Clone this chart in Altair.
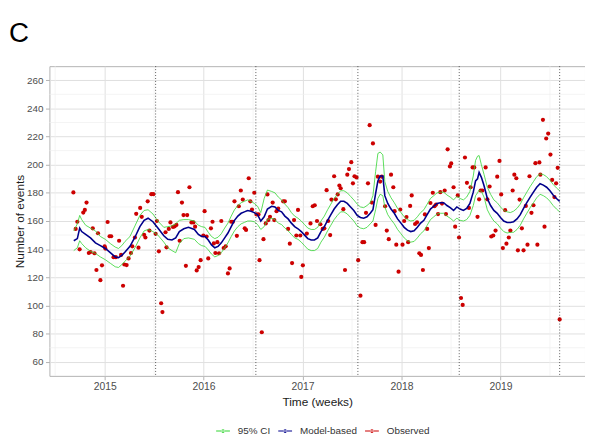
import altair as alt
import pandas as pd

# ---------------- data ----------------
YEARS = [2015, 2016, 2017, 2018, 2019]
Y_TICKS = [60, 80, 100, 120, 140, 160, 180, 200, 220, 240, 260]
MINOR_X = [2014.5, 2015.5, 2016.5, 2017.5, 2018.5, 2019.5]
MINOR_Y = [70, 90, 110, 130, 150, 170, 190, 210, 230, 250]
BREAKS = [2015.515, 2016.528, 2017.559, 2018.583, 2019.598]
SERIES = ["95% CI", "Model-based", "Observed"]
COLORS = ["#33d633", "#00008b", "#cc0000"]

OBS_T = [
    2014.684, 2014.707, 2014.724, 2014.747, 2014.784, 2014.800, 2014.817, 2014.840, 2014.857, 2014.880,
    2014.897, 2014.917, 2014.933, 2014.957, 2014.973, 2015.000, 2015.007, 2015.030, 2015.050, 2015.066,
    2015.090, 2015.113, 2015.146, 2015.166, 2015.186, 2015.199, 2015.222, 2015.242, 2015.266, 2015.279,
    2015.306, 2015.319, 2015.342, 2015.359, 2015.375, 2015.399, 2015.412, 2015.435, 2015.452, 2015.472,
    2015.492, 2015.515, 2015.528, 2015.548, 2015.571, 2015.584,
    2015.615, 2015.625, 2015.648, 2015.665, 2015.691, 2015.708, 2015.725, 2015.741, 2015.758, 2015.781,
    2015.797, 2015.821, 2015.834, 2015.857, 2015.877, 2015.897, 2015.914, 2015.930, 2015.950, 2015.970,
    2015.997, 2016.010, 2016.030, 2016.047, 2016.074, 2016.090, 2016.103, 2016.119, 2016.139, 2016.156,
    2016.179, 2016.203, 2016.223, 2016.246, 2016.263, 2016.279, 2016.296, 2016.312, 2016.336, 2016.356,
    2016.376, 2016.396, 2016.416, 2016.429, 2016.456, 2016.472, 2016.489, 2016.512, 2016.535, 2016.555,
    2016.565, 2016.588, 2016.605, 2016.628, 2016.645,
    2016.655, 2016.671, 2016.698, 2016.714, 2016.737, 2016.754, 2016.804, 2016.821, 2016.854, 2016.871,
    2016.894, 2016.914, 2016.937, 2016.954, 2016.977, 2016.987, 2017.003, 2017.043, 2017.080, 2017.103,
    2017.123, 2017.146, 2017.180, 2017.203, 2017.220, 2017.243, 2017.259, 2017.279, 2017.292, 2017.319,
    2017.336, 2017.355, 2017.372, 2017.385, 2017.412, 2017.429, 2017.452, 2017.469, 2017.492, 2017.509,
    2017.525, 2017.545, 2017.562, 2017.585, 2017.605, 2017.622, 2017.641, 2017.661, 2017.678, 2017.701,
    2017.711,
    2017.738, 2017.761, 2017.784, 2017.801, 2017.834, 2017.851, 2017.871, 2017.894, 2017.917, 2017.930,
    2017.947, 2017.970, 2017.987, 2018.010, 2018.027, 2018.050, 2018.067, 2018.087, 2018.103, 2018.137,
    2018.157, 2018.180, 2018.197, 2018.216, 2018.236, 2018.259, 2018.276, 2018.292, 2018.316, 2018.333,
    2018.349, 2018.369, 2018.392, 2018.409, 2018.436, 2018.449, 2018.466, 2018.489, 2018.502, 2018.526,
    2018.542, 2018.568, 2018.581, 2018.601, 2018.618, 2018.641, 2018.661, 2018.681, 2018.698, 2018.718,
    2018.735, 2018.768,
    2018.784, 2018.800, 2018.817, 2018.850, 2018.867, 2018.890, 2018.907, 2018.927, 2018.950, 2018.967,
    2018.990, 2019.007, 2019.024, 2019.047, 2019.060, 2019.084, 2019.100, 2019.123, 2019.140, 2019.160,
    2019.176, 2019.193, 2019.216, 2019.233, 2019.256, 2019.273, 2019.293, 2019.313, 2019.333, 2019.353,
    2019.373, 2019.393, 2019.403, 2019.429, 2019.445, 2019.462, 2019.482, 2019.505, 2019.522, 2019.545,
    2019.562, 2019.578, 2019.598,
]
OBS_N = [
    180.3, 154.4, 159.5, 139.9, 166.0, 167.9, 173.1, 137.3, 138.0, 154.8,
    137.1, 125.2, 151.3, 118.0, 128.5, 142.0, 140.4, 159.3, 149.2, 149.2,
    134.3, 134.3, 146.0, 135.9, 114.0, 129.1, 128.7, 133.4, 137.3, 142.0,
    148.3, 165.1, 141.1, 169.3, 163.0, 150.2, 148.3, 174.0, 153.2, 179.1,
    179.1, 150.9, 160.0, 138.5, 101.6, 95.3,
    152.0, 141.3, 154.4, 159.0, 155.8, 156.2, 157.2, 180.5, 146.0, 173.1,
    164.2, 128.2, 164.2, 184.0, 159.0, 159.0, 156.0, 124.9, 127.3, 132.2,
    149.7, 167.0, 149.0, 133.4, 154.8, 159.5, 144.1, 137.3, 145.0, 137.1,
    160.0, 140.8, 142.0, 122.8, 126.3, 159.5, 159.5, 174.0, 149.5, 170.5,
    181.7, 175.2, 154.8, 153.7, 190.4, 174.0, 168.2, 180.1, 164.7, 164.7,
    132.2, 81.0, 147.1, 158.3, 178.9,
    160.7, 163.0, 173.1, 160.7, 167.0, 168.9, 174.0, 174.0, 154.4, 143.9,
    130.1, 160.7, 149.7, 167.9, 149.7, 120.3, 128.5, 151.1, 158.3, 170.5,
    171.2, 160.0, 157.7, 154.4, 154.8, 181.9, 160.0, 150.0, 175.2, 191.8,
    175.4, 178.9, 185.2, 183.3, 168.4, 125.2, 192.9, 196.9, 201.8, 186.8,
    191.8, 191.0, 132.2, 107.0, 145.0, 145.0, 165.8, 186.8, 228.1, 173.1,
    215.1,
    157.2, 191.5, 188.0, 191.5, 170.5, 153.2, 147.1, 192.9, 184.0, 167.0,
    143.2, 124.0, 168.2, 143.2, 160.0, 162.8, 145.0, 170.7, 178.2, 157.9,
    159.1, 137.1, 135.9, 125.2, 164.7, 154.4, 140.8, 172.8, 180.1, 170.5,
    171.7, 164.9, 180.5, 172.4, 181.7, 164.9, 210.9, 198.8, 200.9, 184.0,
    156.0, 178.2, 148.3, 105.3, 100.4, 205.1, 187.1, 169.3, 184.0, 198.1,
    198.1, 163.0,
    175.4, 181.7, 181.7, 198.1, 175.4, 184.5, 149.0, 149.7, 153.2, 191.5,
    202.7, 178.9, 140.8, 167.7, 143.9, 148.3, 153.2, 181.7, 192.9, 190.4,
    139.2, 175.2, 154.8, 139.2, 170.7, 143.2, 191.8, 165.8, 171.2, 201.1,
    143.2, 201.6, 192.9, 231.9, 156.0, 218.6, 222.1, 207.2, 189.2, 177.0,
    186.8, 197.8, 90.1,
]

LINE_T = [
    2014.688, 2014.724, 2014.748, 2014.768, 2014.808, 2014.857, 2014.907, 2014.957, 2015.007, 2015.057,
    2015.107, 2015.140, 2015.173, 2015.206, 2015.256, 2015.306, 2015.356, 2015.399, 2015.439, 2015.488,
    2015.538, 2015.598, 2015.638, 2015.680, 2015.718, 2015.755, 2015.800, 2015.847, 2015.907, 2015.947,
    2015.980, 2016.014, 2016.047, 2016.080, 2016.113, 2016.146, 2016.179, 2016.213, 2016.246, 2016.279,
    2016.312, 2016.346, 2016.379, 2016.412, 2016.445, 2016.479, 2016.512, 2016.545, 2016.578, 2016.612,
    2016.645, 2016.688, 2016.721, 2016.755, 2016.788, 2016.821, 2016.854, 2016.887, 2016.920, 2016.954,
    2016.987, 2017.020, 2017.053, 2017.087, 2017.120, 2017.153, 2017.186, 2017.220, 2017.253, 2017.286,
    2017.319, 2017.352, 2017.385, 2017.418, 2017.452, 2017.485, 2017.518, 2017.552, 2017.585, 2017.618,
    2017.651, 2017.684, 2017.711, 2017.738, 2017.761, 2017.784, 2017.811, 2017.831, 2017.861, 2017.894,
    2017.927, 2017.960, 2017.994, 2018.027, 2018.060, 2018.093, 2018.127, 2018.160, 2018.193, 2018.226,
    2018.259, 2018.292, 2018.326, 2018.359, 2018.392, 2018.426, 2018.459, 2018.492, 2018.526, 2018.559,
    2018.592, 2018.625, 2018.658, 2018.691, 2018.725, 2018.748, 2018.768, 2018.784, 2018.807, 2018.834,
    2018.867, 2018.900, 2018.933, 2018.967, 2019.000, 2019.033, 2019.067, 2019.100, 2019.133, 2019.167,
    2019.200, 2019.233, 2019.266, 2019.300, 2019.333, 2019.366, 2019.400, 2019.433, 2019.466, 2019.500,
    2019.532, 2019.566, 2019.598,
]
MODEL = [
    146, 147.5, 155, 152.5, 150.5, 148, 144.5, 142.5, 140.5, 137.5,
    134.5, 134, 135.5, 138, 142, 148.5, 156, 160.5, 162, 159.5,
    155, 149.5, 147, 146.5, 148, 152.5, 154.5, 155.5, 154, 150.5,
    149, 149, 146.5, 143, 141, 142, 144.5, 148, 151.5, 156,
    160.5, 163.5, 165.5, 166.5, 167.5, 167, 166, 164.5, 160, 163,
    168.5, 170.5, 170, 167.5, 166.5, 163.5, 161.5, 158.5, 156, 154.5,
    152.5, 150, 147.5, 146.5, 146.5, 148, 152.5, 156, 160.5, 164.5,
    168.5, 171.5, 174, 174, 172.5, 170, 167.5, 164, 162.5, 162,
    163, 165.5, 168, 179.5, 188.5, 192, 192, 178, 172.5, 168.5,
    165.5, 161.5, 158.5, 155.5, 153.5, 152.5, 153, 155.5, 158.5, 160.5,
    164.5, 168.5, 170.5, 172.5, 173, 173, 171, 169.5, 167.5, 170,
    168.5, 167.5, 169, 172.5, 180.5, 188.5, 190, 194.5, 191, 185,
    176, 171, 167.5, 165.5, 162.5, 160, 159, 159, 159.5, 161.5,
    164.5, 169, 173, 177, 180.5, 184, 186.5, 185.5, 184, 181.5,
    178.5, 176, 174,
]
CI_UPPER = [
    153, 158, 164, 161, 157, 155, 153, 149, 147, 144,
    141.5, 140.5, 142.5, 145.5, 149, 156.5, 164, 167.5, 168, 165,
    160, 155.5, 156, 156.5, 158, 160.5, 161, 161, 160, 157,
    156, 155.5, 152, 149, 147.5, 148.5, 151, 155, 158.5, 163.5,
    168, 171, 173, 174, 175, 174, 172.5, 170.5, 166, 176,
    182, 181, 180, 177, 175, 172, 169.5, 166, 163.5, 162,
    160, 157.5, 155, 154, 154, 155.5, 160, 163.5, 168, 172,
    176, 179, 181.5, 181.5, 180, 177.5, 175, 172, 170, 169.5,
    171, 173, 178, 195, 208, 209, 207, 188, 181, 176.5,
    173, 169, 166, 163, 161, 160, 160.5, 163, 166, 168,
    172, 176, 178, 180, 180.5, 180.5, 178.5, 177, 175, 177.5,
    176, 175, 177, 181, 192, 203, 206, 206.5, 200, 193,
    184, 179, 175, 173, 170, 167.5, 166.5, 166, 167, 169,
    172, 176.5, 180.5, 184.5, 188, 191.5, 193.5, 193, 191.5, 189,
    186, 183.5, 181.5,
]
CI_LOWER = [
    139, 141, 146, 144, 141, 138.5, 137, 134.5, 132.5, 130,
    127.5, 127, 129, 131.5, 135, 141, 148, 153, 154, 152.5,
    150, 145, 141, 139, 137.5, 144, 147.5, 148, 147, 144,
    142.5, 142, 139.5, 136.5, 134.5, 135.5, 137.5, 141, 144.5, 149,
    153, 156, 158, 159, 160, 160, 159.5, 157.5, 154, 156,
    161, 162, 161, 158.5, 157.5, 155, 153, 150.5, 148, 147,
    145, 142.5, 140, 139, 139, 140.5, 145, 148.5, 153, 157,
    161, 164, 166.5, 166.5, 165, 162.5, 160, 156.5, 155, 154.5,
    155.5, 158, 160, 168, 176, 179, 178, 170, 164.5, 161,
    158, 154, 151, 148, 146, 145, 145.5, 148, 151, 153,
    157, 161, 163, 165, 165.5, 165.5, 163.5, 162, 160, 162,
    160.5, 160, 161, 164, 171, 178, 180, 182, 181, 177,
    168, 163.5, 160, 158, 155, 152.5, 151.5, 152, 152, 154,
    157, 161.5, 165.5, 169.5, 173, 176.5, 179, 178, 176.5, 174,
    171, 168.5, 166.5,
]

# ---------------- tables ----------------
obs = pd.DataFrame({"t": OBS_T, "n": OBS_N})
obs["series"] = "Observed"
obs["grp"] = "obs"

ci = pd.concat([
    pd.DataFrame({"t": LINE_T, "n": CI_UPPER, "series": "95% CI", "grp": "upper"}),
    pd.DataFrame({"t": LINE_T, "n": CI_LOWER, "series": "95% CI", "grp": "lower"}),
])
model = pd.DataFrame({"t": LINE_T, "n": MODEL, "series": "Model-based", "grp": "model"})

FONT = "Liberation Sans"

X = alt.X(
    "t:Q",
    scale=alt.Scale(domain=[2014.442, 2019.854], nice=False, zero=False),
    axis=alt.Axis(
        values=YEARS, format="d", labelFontSize=10.5, labelColor="#4d4d4d",
        tickColor="#b3b3b3", tickSize=4, tickWidth=1, domain=False,
        grid=True, gridColor="#e0e0e0", gridWidth=1, labelPadding=1.5,
        title="Time (weeks)", titleFontSize=12, titleFontWeight="normal",
        titleColor="#1a1a1a", titleY=26, titleBaseline="middle",
    ),
)
Y = alt.Y(
    "n:Q",
    scale=alt.Scale(domain=[50, 270], nice=False, zero=False),
    axis=alt.Axis(
        values=Y_TICKS, labelFontSize=10, labelColor="#4d4d4d",
        tickColor="#b3b3b3", tickSize=4, tickWidth=1, domain=False,
        grid=True, gridColor="#e0e0e0", gridWidth=1, labelPadding=2.5,
        title="Number of events", titleFontSize=12, titleFontWeight="normal",
        titleColor="#1a1a1a", titleX=-30, titleY=157, titleAngle=270,
        titleAlign="center", titleBaseline="middle",
    ),
)
CSCALE = alt.Scale(domain=SERIES, range=COLORS)
KEY = ("M-1,-0.07L1,-0.07L1,0.07L-1,0.07Z "
       "M-0.27,0A0.27,0.27,0,1,0,0.27,0A0.27,0.27,0,1,0,-0.27,0Z")
LEG = alt.Legend(
    title=None, orient="none", legendX=169, legendY=363, direction="horizontal",
    symbolType=KEY, symbolSize=196, symbolStrokeWidth=0, symbolOpacity=1,
    labelFontSize=10, labelColor="#333333", labelOffset=8, columnPadding=8,
    padding=0, labelFont=FONT,
)

minor_x = alt.Chart(pd.DataFrame({"t": MINOR_X})).mark_rule(
    color="#efefef", strokeWidth=0.7).encode(x=X)
minor_y = alt.Chart(pd.DataFrame({"n": MINOR_Y})).mark_rule(
    color="#efefef", strokeWidth=0.7).encode(y=Y)

points = alt.Chart(obs).mark_circle(size=18, opacity=1).encode(
    x=X, y=Y, color=alt.Color("series:N", scale=CSCALE, legend=LEG))

ci_lines = alt.Chart(ci).mark_line(strokeWidth=0.9, opacity=0.9).encode(
    x=X, y=Y, detail="grp:N",
    color=alt.Color("series:N", scale=CSCALE, legend=None))

model_line = alt.Chart(model).mark_line(strokeWidth=1.6).encode(
    x=X, y=Y, color=alt.Color("series:N", scale=CSCALE, legend=None))

breaks = alt.Chart(pd.DataFrame({"t": BREAKS})).mark_rule(
    color="#333333", strokeDash=[1, 2], strokeWidth=0.8).encode(x=X)

chart = alt.layer(minor_x, minor_y, points, ci_lines, model_line, breaks).properties(
    width=543, height=314,
    padding={"left": 42, "top": 56, "right": 0, "bottom": 59},
    autosize=alt.AutoSizeParams(type="none"),
    title=alt.TitleParams("C", anchor="start", frame="group", fontSize=28,
                          fontWeight="normal", color="#000000", font=FONT,
                          dx=-41, offset=18),
).configure(font=FONT).configure_view(stroke="#b3b3b3", strokeWidth=1)

chart.save("out.html", embed_options={"renderer": "svg", "actions": False})
